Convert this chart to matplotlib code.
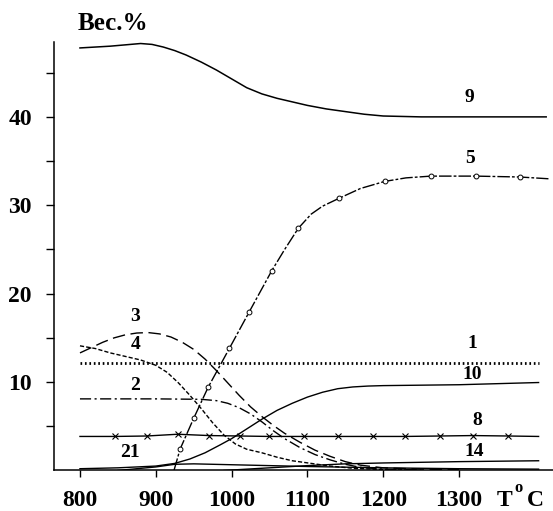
import matplotlib
matplotlib.use("Agg")
import matplotlib.pyplot as plt
from matplotlib.ticker import FixedLocator

plt.rcParams.update({
    "font.family": ["Liberation Serif", "DejaVu Serif"],
    "font.weight": "bold",
    "axes.linewidth": 1.1,
})

# curve 9
t9 = [800, 820, 840, 860, 880, 895, 910, 925, 940, 960, 980, 1000, 1020, 1040, 1060,
      1080, 1100, 1125, 1150, 1175, 1200, 1250, 1300, 1415]
w9 = [47.8, 47.9, 48.0, 48.15, 48.3, 48.2, 47.9, 47.5, 47.0, 46.2, 45.3, 44.3, 43.3, 42.6, 42.1,
      41.7, 41.3, 40.9, 40.6, 40.3, 40.1, 40.0, 40.0, 40.0]
# curve 5 (open circles)
t5 = [924, 932, 950, 969, 997, 1023, 1053, 1070, 1088, 1105, 1120, 1142, 1170, 1202,
      1230, 1263, 1322, 1380, 1418]
w5 = [0.0, 2.4, 5.9, 9.4, 13.8, 17.9, 22.6, 25.0, 27.4, 29.0, 29.9, 30.8, 31.9, 32.7,
      33.1, 33.3, 33.3, 33.2, 33.0]
m5 = [1, 2, 3, 4, 5, 6, 8, 11, 13, 15, 16, 17]
# curve 3
t3 = [800, 815, 830, 845, 860, 875, 890, 905, 920, 935, 950, 965, 980, 995, 1010, 1025,
      1040, 1055, 1070, 1090, 1110, 1130, 1150, 1170, 1200, 1250, 1300]
w3 = [13.3, 13.9, 14.5, 15.0, 15.35, 15.55, 15.6, 15.45, 15.1, 14.5, 13.7, 12.6, 11.3, 9.9,
      8.5, 7.2, 6.1, 5.1, 4.2, 3.2, 2.3, 1.6, 1.0, 0.6, 0.3, 0.15, 0.1]
# curve 4
t4 = [800, 820, 840, 860, 880, 900, 915, 930, 945, 960, 975, 990, 1005, 1020, 1040, 1060,
      1080, 1105, 1130, 1160, 1200, 1240]
w4 = [14.1, 13.8, 13.3, 12.9, 12.5, 11.9, 11.1, 9.9, 8.5, 7.0, 5.4, 4.0, 3.0, 2.4, 2.0, 1.5,
      1.1, 0.8, 0.5, 0.25, 0.1, 0.05]
# curve 1
t1 = [800, 1000, 1200, 1405]
w1 = [12.2, 12.2, 12.2, 12.2]
# curve 2
t2 = [800, 900, 960, 980, 995, 1010, 1025, 1040, 1055, 1070, 1090, 1110, 1130, 1150, 1170,
      1200, 1250]
w2 = [8.1, 8.1, 8.05, 7.9, 7.6, 7.1, 6.4, 5.5, 4.5, 3.6, 2.6, 1.8, 1.2, 0.7, 0.35, 0.15, 0.1]
# curve 10
t10 = [800, 850, 900, 925, 945, 965, 985, 1000, 1020, 1040, 1060, 1080, 1100, 1120, 1140,
       1160, 1180, 1200, 1300, 1405]
w10 = [0.2, 0.3, 0.5, 0.8, 1.3, 2.0, 2.9, 3.6, 4.7, 5.8, 6.8, 7.6, 8.3, 8.85, 9.25,
       9.45, 9.55, 9.6, 9.7, 9.95]
# curve 8 (crosses)
t8 = [800, 846, 888, 929, 970, 1011, 1049, 1095, 1140, 1186, 1229, 1275, 1318, 1365, 1405]
w8 = [3.85, 3.85, 3.9, 4.1, 3.95, 3.9, 3.85, 3.85, 3.85, 3.85, 3.85, 3.9, 3.95, 3.9, 3.85]
# curve 21
t21 = [850, 900, 925, 950, 1000, 1100, 1200, 1300, 1405]
w21 = [0.0, 0.4, 0.7, 0.75, 0.65, 0.45, 0.3, 0.2, 0.15]
# curve 14
t14 = [990, 1050, 1100, 1150, 1200, 1300, 1405]
w14 = [0.0, 0.3, 0.55, 0.75, 0.85, 1.0, 1.1]

labels = ["9", "5", "3", "4", "2", "1", "10", "8", "21", "14"]
label_x = [1314, 1314, 873, 873, 873, 1318, 1317, 1324, 866, 1320]
label_y = [42.2, 35.3, 17.4, 14.2, 9.6, 14.4, 10.9, 5.7, 2.0, 2.15]

xticks = [800, 900, 1000, 1100, 1200, 1300]
yticks = [10, 20, 30, 40]
yminor = [5, 15, 25, 35, 45]

K = "black"
fig = plt.figure(figsize=(5.53, 5.11), dpi=100)
ax = fig.add_axes([0.0976, 0.0793, 0.9024, 0.839])

ax.plot(t9, w9, "-", color=K, lw=1.1)
ax.plot(t5, w5, color=K, lw=1.0, ls=(0, (9, 1.5, 2, 1.5)),
        marker="o", ms=3.5, mfc="white", mec=K, mew=0.7, markevery=m5)
ax.plot(t3, w3, color=K, lw=1.0, ls=(0, (9, 4)))
ax.plot(t4, w4, color=K, lw=1.0, ls=(0, (3, 1.5)))
ax.plot(t1, w1, color=K, lw=2.0, ls=(0, (0.6, 1.0)))
ax.plot(t2, w2, color=K, lw=1.0, ls=(0, (8, 2.5, 1.5, 2.5)))
ax.plot(t10, w10, "-", color=K, lw=1.0)
ax.plot(t8, w8, "-", color=K, lw=1.0, marker="x", ms=4, mew=0.8,
        markevery=list(range(1, len(t8) - 1)))
ax.plot(t21, w21, "-", color=K, lw=1.0)
ax.plot(t14, w14, "-", color=K, lw=1.0)

for s, x, y in zip(labels, label_x, label_y):
    ax.text(x, y, s, ha="center", va="center", fontsize=14, fontweight="bold")

ax.set_xlim(765.7, 1424)
ax.set_ylim(0, 48.5)
ax.spines["top"].set_visible(False)
ax.spines["right"].set_visible(False)
ax.set_xticks(xticks)
ax.set_xticklabels([str(v) for v in xticks])
ax.set_yticks(yticks)
ax.set_yticklabels([str(v) for v in yticks])
ax.yaxis.set_minor_locator(FixedLocator(yminor))
ax.tick_params(axis="x", direction="out", length=5, width=1, pad=9, labelsize=17)
ax.tick_params(axis="y", direction="out", length=6, width=1, pad=10, labelsize=17)
ax.tick_params(axis="y", which="minor", direction="out", length=6, width=1)

fig.text(78 / 553, 1 - 23 / 511, "Вес.%", ha="left", va="center",
         fontsize=18, fontweight="bold")
fig.text(497 / 553, 1 - 500 / 511, "T", ha="left", va="center", fontsize=17, fontweight="bold")
fig.text(514 / 553, 1 - 488 / 511, "o", ha="left", va="center", fontsize=12, fontweight="bold")
fig.text(527 / 553, 1 - 500 / 511, "C", ha="left", va="center", fontsize=17, fontweight="bold")

fig.savefig("out.png", dpi=100)
